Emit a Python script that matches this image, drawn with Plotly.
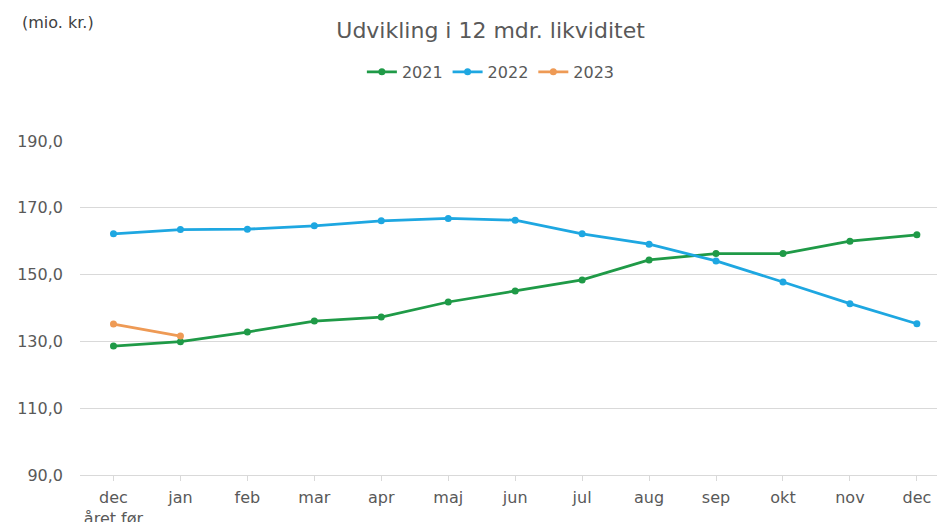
import plotly.graph_objects as go

categories = ["dec<br>året før", "jan", "feb", "mar", "apr", "maj", "jun", "jul", "aug", "sep", "okt", "nov", "dec"]
values_2021 = [128.6, 129.9, 132.8, 136.1, 137.3, 141.8, 145.1, 148.4, 154.4, 156.3, 156.3, 160.0, 161.9]
values_2022 = [162.2, 163.5, 163.6, 164.6, 166.1, 166.8, 166.3, 162.2, 159.1, 154.1, 147.8, 141.3, 135.3]
values_2023 = [135.2, 131.6]

colors = {"2021": "#1F9A47", "2022": "#1EA7E1", "2023": "#EE9A55"}
font_family = "DejaVu Sans"

fig = go.Figure()
x_idx = list(range(len(categories)))
for name, vals in [("2021", values_2021), ("2022", values_2022), ("2023", values_2023)]:
    fig.add_trace(go.Scatter(
        x=x_idx[:len(vals)], y=vals, name=name, mode="lines+markers",
        line=dict(color=colors[name], width=2.75),
        marker=dict(color=colors[name], size=7),
    ))

fig.update_layout(
    width=937, height=514,
    margin=dict(l=72, r=0, t=133, b=47, autoexpand=False),
    paper_bgcolor="white", plot_bgcolor="white",
    font=dict(family=font_family, color="#595959", size=15),
    title=dict(text="Udvikling i 12 mdr. likviditet", x=0.515, xanchor="center", xref="container",
               y=0.957, yanchor="middle", font=dict(size=22, color="#595959", family=font_family)),
    legend=dict(orientation="h", x=0.475, xanchor="center", y=1.207, yanchor="middle",
                font=dict(size=16, color="#595959"), itemwidth=30, tracegroupgap=0),
    showlegend=True,
    annotations=[dict(text="(mio. kr.)", xref="paper", yref="paper", x=-0.069, y=1.356,
                      xanchor="left", yanchor="middle", showarrow=False,
                      font=dict(size=16, color="#404040", family=font_family))],
)
fig.update_xaxes(
    range=[-0.5, 12.42], tickmode="array", tickvals=x_idx, ticktext=categories,
    showgrid=False, showline=True, linecolor="#D9D9D9", linewidth=1,
    ticks="outside", ticklen=5, tickcolor="#D9D9D9", ticklabelstandoff=3,
    tickfont=dict(size=16, color="#595959"), zeroline=False, fixedrange=True,
)
fig.update_yaxes(
    range=[90, 190], tickmode="array", tickvals=[90, 110, 130, 150, 170, 190],
    ticktext=["90,0", "110,0", "130,0", "150,0", "170,0", "190,0"],
    showgrid=True, gridcolor="#D9D9D9", gridwidth=1, zeroline=False, showline=False,
    ticks="", ticklabelstandoff=16, tickfont=dict(size=16, color="#595959"),
)

fig.write_html("out.html")
